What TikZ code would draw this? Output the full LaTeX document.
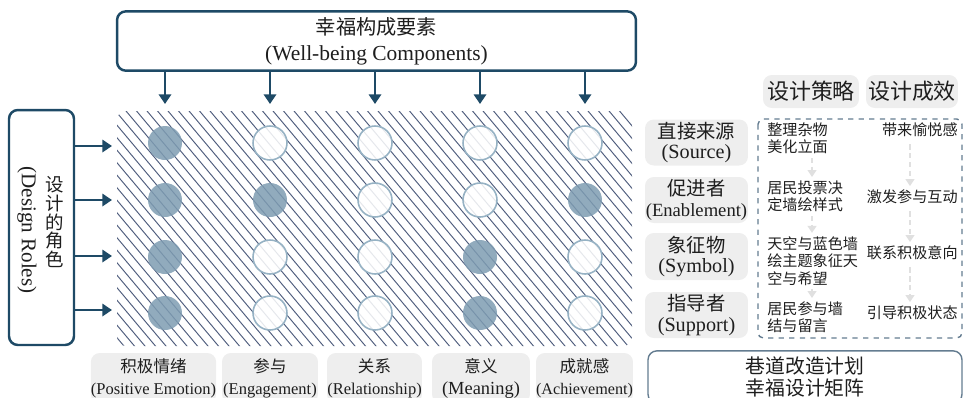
\documentclass[tikz,border=0pt]{standalone}
\usepackage{fontspec}
\setmainfont{Liberation Serif}
\newfontfamily\cjk{Noto Sans CJK SC}
\usepackage{tikz}
\usepackage{xcolor}
\usetikzlibrary{arrows.meta}

\definecolor{deepblue}{RGB}{30,74,102}
\definecolor{hatchblue}{RGB}{80,94,126}
\definecolor{dotfill}{RGB}{126,156,178}
\definecolor{dotring}{RGB}{150,178,196}
\definecolor{tagbg}{RGB}{238,238,238}
\definecolor{dashblue}{RGB}{100,124,144}
\definecolor{faint}{RGB}{224,224,224}
\definecolor{ink}{RGB}{30,30,30}

\tikzstyle{frame} = [rectangle, draw=deepblue, line width=1.4pt, rounded corners=5pt, fill=white]
\tikzstyle{tag} = [rectangle, fill=tagbg, rounded corners=5pt, align=center, inner sep=0pt, text=ink]
\tikzstyle{dotfull} = [circle, fill=dotfill, fill opacity=0.85, minimum size=0.68cm, inner sep=0pt]
\tikzstyle{dothollow} = [circle, draw=dotring, line width=0.9pt, fill=white, fill opacity=0.85, minimum size=0.68cm, inner sep=0pt]
\tikzstyle{pointer} = [-{Triangle[length=5.5pt,width=7pt]}, draw=deepblue, line width=1.5pt]
\tikzstyle{ghost} = [-{Triangle[length=4pt,width=5pt]}, draw=faint, dash pattern=on 3pt off 2pt, line width=1pt]
\tikzstyle{note} = [font=\cjk\fontsize{8.6}{9.8}\selectfont, align=left, inner sep=0pt, text=ink]

\begin{document}
\begin{tikzpicture}[x=0.02cm,y=-0.02cm]
  \useasboundingbox (0,0) rectangle (964,397);

  % hatched field
  \begin{scope}
    \clip[rounded corners=5pt] (117,111) rectangle (632,346);
    \foreach \x in {-110,-99.5,...,640}
      \draw[hatchblue, line width=0.55pt] (\x,105) -- ++(210,250);
  \end{scope}

  % role x component matrix
  \foreach \s [count=\c] in {dotfull,dothollow,dothollow,dothollow,dothollow}
    \node[\s] (r1c\c) at ({60+105*\c},143) {};
  \foreach \s [count=\c] in {dotfull,dotfull,dothollow,dothollow,dotfull}
    \node[\s] (r2c\c) at ({60+105*\c},200) {};
  \foreach \s [count=\c] in {dotfull,dothollow,dothollow,dotfull,dothollow}
    \node[\s] (r3c\c) at ({60+105*\c},257) {};
  \foreach \s [count=\c] in {dotfull,dothollow,dothollow,dotfull,dothollow}
    \node[\s] (r4c\c) at ({60+105*\c},313) {};

  \node[frame, minimum width=10.38cm, minimum height=1.16cm, align=center, text=ink,
        font=\fontsize{12.2}{14.8}\selectfont] (comp) at (376.5,41)
        {{\cjk\fontsize{11.5}{14.8}\selectfont 幸福构成要素}\\(Well-being Components)};
  \node[frame, minimum width=1.3cm, minimum height=4.7cm] (roles) at (41.5,227.5) {};
  \node[rotate=-90, text=ink, font=\fontsize{12}{14}\selectfont] (rolesen) at (27,230) {(Design Roles)};
  \node[align=center, text=ink, font=\cjk\fontsize{10.5}{10.6}\selectfont] (rolescn) at (55,222) {设\\计\\的\\角\\色};

  \foreach \c in {1,...,5} {
    \coordinate (tip\c) at ({60+105*\c},104);
    \draw[pointer] (comp.south -| tip\c) -- (tip\c);
  }
  \foreach \y [count=\r] in {146,200,256,310} {
    \coordinate (in\r) at (112,\y);
    \draw[pointer] (roles.east |- in\r) -- (in\r);
  }

  % component labels
  \node[tag, minimum width=2.46cm, minimum height=1cm, font=\fontsize{9.4}{12.5}\selectfont] (pe) at (153.5,378)
    {{\cjk\fontsize{9.4}{12.5}\selectfont 积极情绪}\\(Positive Emotion)};
  \node[tag, minimum width=1.92cm, minimum height=1cm, font=\fontsize{9.4}{12.5}\selectfont] (en) at (270,378)
    {{\cjk\fontsize{9.4}{12.5}\selectfont 参与}\\(Engagement)};
  \node[tag, minimum width=1.9cm, minimum height=1cm, font=\fontsize{9.4}{12.5}\selectfont] (re) at (374.5,378)
    {{\cjk\fontsize{9.4}{12.5}\selectfont 关系}\\(Relationship)};
  \node[tag, minimum width=1.96cm, minimum height=1cm, font=\fontsize{10.5}{12.5}\selectfont] (me) at (481,378)
    {{\cjk\fontsize{9.4}{12.5}\selectfont 意义}\\(Meaning)};
  \node[tag, minimum width=1.94cm, minimum height=1cm, font=\fontsize{9.2}{12.5}\selectfont] (ac) at (584.5,378)
    {{\cjk\fontsize{9.4}{12.5}\selectfont 成就感}\\(Achievement)};

  % strategy panel
  \node[tag, minimum width=1.92cm, minimum height=0.66cm, font=\cjk\fontsize{12.5}{14}\selectfont] (hstr) at (811,91.5) {设计策略};
  \node[tag, minimum width=1.84cm, minimum height=0.66cm, font=\cjk\fontsize{12.5}{14}\selectfont] (hres) at (912,91.5) {设计成效};

  \node[tag, minimum width=2.06cm, minimum height=0.92cm, font=\fontsize{11.5}{11.6}\selectfont] (src) at (696.5,142.5)
    {{\cjk\fontsize{11}{11.6}\selectfont 直接来源}\\(Source)};
  \node[tag, minimum width=2.06cm, minimum height=0.92cm, font=\fontsize{10.6}{11.6}\selectfont] (ena) at (696.5,200)
    {{\cjk\fontsize{11}{11.6}\selectfont 促进者}\\(Enablement)};
  \node[tag, minimum width=2.06cm, minimum height=0.94cm, font=\fontsize{11.5}{11.6}\selectfont] (sym) at (696.5,256.5)
    {{\cjk\fontsize{11}{11.6}\selectfont 象征物}\\(Symbol)};
  \node[tag, minimum width=2.06cm, minimum height=0.92cm, font=\fontsize{11.5}{11.6}\selectfont] (sup) at (696.5,315)
    {{\cjk\fontsize{11}{11.6}\selectfont 指导者}\\(Support)};

  \draw[dashblue, dashed, line width=0.8pt, rounded corners=3pt] (758,119) rectangle (962,338);

  \coordinate (laneS) at (812,0);
  \coordinate (laneR) at (910,0);

  \node[note, anchor=west] (s1) at (767,138.5) {整理杂物\\美化立面};
  \node[note, anchor=west] (s2) at (767,196.5) {居民投票决\\定墙绘样式};
  \node[note, anchor=west] (s3) at (767,261) {天空与蓝色墙\\绘主题象征天\\空与希望};
  \node[note, anchor=west] (s4) at (767,317.5) {居民参与墙\\结与留言};
  \node[note, anchor=east] (e1) at (958,130) {带来愉悦感};
  \node[note, anchor=east] (e2) at (958,197) {激发参与互动};
  \node[note, anchor=east] (e3) at (958,253) {联系积极意向};
  \node[note, anchor=east] (e4) at (958,313) {引导积极状态};

  \draw[ghost] ([yshift=-2pt]s1.south -| laneS) -- ([yshift=2pt]s2.north -| laneS);
  \draw[ghost] ([yshift=-2pt]s2.south -| laneS) -- ([yshift=2pt]s3.north -| laneS);
  \draw[ghost] ([yshift=-2pt]s3.south -| laneS) -- ([yshift=2pt]s4.north -| laneS);
  \draw[ghost] ([yshift=-4pt]e1.south -| laneR) -- ([yshift=2pt]e2.north -| laneR);
  \draw[ghost] ([yshift=-4pt]e2.south -| laneR) -- ([yshift=2pt]e3.north -| laneR);
  \draw[ghost] ([yshift=-4pt]e3.south -| laneR) -- ([yshift=2pt]e4.north -| laneR);

  \node[rectangle, draw=dashblue, line width=0.8pt, rounded corners=5pt, minimum width=6.28cm, minimum height=1.0cm,
        align=center, text=ink, font=\cjk\fontsize{11.3}{12.6}\selectfont] (plan) at (805,377)
        {巷道改造计划\\幸福设计矩阵};
\end{tikzpicture}
\end{document}
